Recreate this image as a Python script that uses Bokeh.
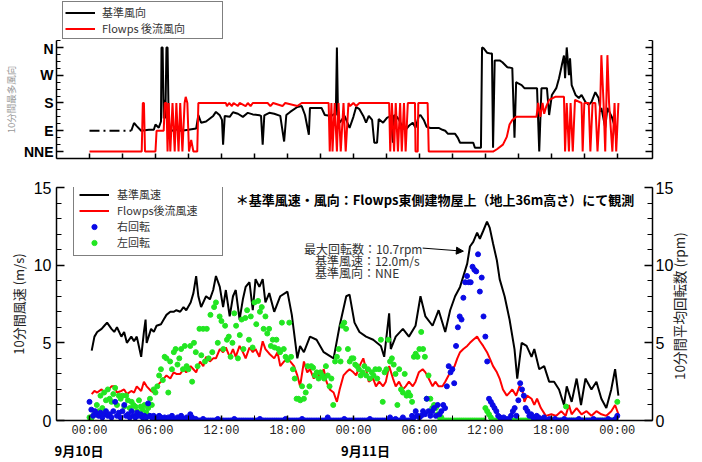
import math
from bokeh.plotting import figure
from bokeh.layouts import column
from bokeh.models import (Range1d, LinearAxis, FixedTicker, Legend, LegendItem,
                          Label, Arrow, NormalHead)
from bokeh.embed import file_html
from bokeh.resources import INLINE

# ---------------- data (hours from 9/10 00:00) ----------------
# wind direction (deg): 22.5=NNE, 90=E, 180=S, 270=W, 360=N
dir_tick_vals = [22.5, 90, 180, 270, 360]
dir_tick_text = ["NNE", "E", "S", "W", "N"]

black_dir_gap_t = [0.0, 3.8]
black_dir_gap_v = [90, 90]

black_dir_t = [3.8, 4.05, 4.3, 4.7, 5.4, 5.85, 6.0, 6.3, 6.5, 6.55,
               6.65, 6.75, 6.85, 6.9, 7.0, 7.1, 7.2, 7.35, 7.8, 8.35,
               9.0, 9.7, 9.9, 10.15, 10.6, 11.25, 11.5, 11.85, 12.05, 12.15,
               12.3, 12.75, 13.05, 13.5, 13.95, 14.4, 14.85, 15.45, 15.6, 15.75,
               15.9, 16.35, 16.8, 17.35, 17.7, 17.9, 18.25, 18.9, 19.3, 19.6,
               19.95, 20.05, 20.65, 21.1, 21.4, 22.0, 22.3, 22.4, 22.5, 22.6,
               22.75, 23.2, 23.65, 24.0, 24.25, 24.55, 24.9, 25.15, 25.4, 25.7,
               25.9, 26.15, 26.3, 26.7, 27.05, 27.4, 27.6, 27.7, 27.95, 28.15,
               28.5, 28.75, 29.05, 29.4, 29.65, 29.95, 30.1, 30.4, 30.65, 31.0,
               31.75, 32.1, 32.35, 32.6, 33.25, 33.5, 33.7, 34.9, 35.05, 35.6,
               35.7, 35.85, 36.15, 36.5, 36.6, 36.7, 36.85, 37.3, 37.55, 38.0,
               38.45, 38.65, 38.8, 38.9, 39.3, 39.55, 40.7, 40.9, 41.1, 41.6,
               41.8, 42.05, 42.45, 42.7, 42.95, 43.15, 43.25, 43.4, 43.6, 43.7,
               43.85, 44.2, 44.5, 44.75, 45.1, 45.4, 45.65, 46.0, 46.3, 46.5,
               46.55, 46.9, 47.1, 47.5, 47.8, 47.9]
black_dir_v = [90, 115, 105, 90, 93, 93, 110, 100, 120, 360,
               360, 130, 190, 130, 360, 360, 125, 87, 95, 90,
               93, 97, 141, 116, 120, 138, 151, 140, 125, 45,
               138, 135, 150, 145, 135, 148, 143, 140, 138, 45,
               140, 148, 145, 138, 55, 141, 151, 167, 170, 141,
               77, 164, 164, 164, 141, 138, 145, 140, 360, 140,
               116, 138, 99, 135, 167, 160, 138, 116, 138, 125,
               51, 51, 128, 116, 132, 138, 51, 141, 135, 125,
               99, 93, 106, 116, 100, 138, 141, 125, 103, 99,
               99, 93, 90, 80, 80, 67, 51, 51, 35, 35,
               360, 357, 343, 340, 340, 35, 318, 318, 312, 296,
               293, 67, 248, 245, 238, 228, 228, 22.5, 228, 228,
               141, 206, 228, 260, 302, 334, 260, 360, 270, 325,
               238, 206, 196, 206, 183, 174, 183, 215, 196, 151,
               164, 100, 164, 135, 100, 67]

red_dir_points = [(0.0, 22.5), (4.75, 22.5), (4.85, 180), (4.95, 180), (5.05, 22.5), (6.0, 22.5),
                  (6.1, 90), (6.75, 90), (6.85, 180), (7.0, 180), (7.1, 22.5), (7.2, 180),
                  (7.35, 22.5), (7.55, 180), (7.75, 22.5), (7.9, 180), (8.1, 22.5), (8.25, 180),
                  (8.45, 22.5), (8.65, 180), (8.75, 200), (8.9, 180), (9.05, 22.5), (9.25, 60),
                  (9.45, 22.5), (9.8, 22.5), (9.9, 180), (12.4, 180), (12.5, 170), (12.7, 180),
                  (12.95, 170), (13.1, 180), (13.5, 170), (13.65, 180), (14.2, 170), (14.4, 180),
                  (14.65, 170), (14.85, 180), (16.2, 180), (16.45, 170), (16.7, 180), (17.55, 170),
                  (17.8, 180), (18.9, 170), (19.3, 180), (21.75, 180), (21.85, 22.5), (22.0, 180),
                  (22.1, 22.5), (22.3, 180), (22.5, 22.5), (22.65, 180), (22.85, 22.5), (23.1, 180),
                  (23.3, 22.5), (23.55, 180), (23.7, 170), (24.0, 180), (24.25, 170), (24.55, 180),
                  (27.25, 180), (27.35, 22.5), (27.5, 180), (27.7, 22.5), (27.85, 180), (28.05, 22.5),
                  (28.25, 180), (28.4, 22.5), (28.6, 180), (28.75, 22.5), (28.95, 180), (29.6, 180),
                  (29.65, 22.5), (29.85, 22.5), (29.9, 180), (30.75, 180), (30.85, 22.5), (36.7, 22.5),
                  (37.05, 30), (37.6, 45), (37.95, 70), (38.2, 110), (38.45, 125), (38.8, 135),
                  (40.65, 135), (40.8, 180), (41.0, 135), (41.2, 180), (41.35, 145), (41.55, 170),
                  (41.8, 190), (42.35, 200), (43.15, 200), (43.25, 22.5), (43.4, 180), (43.6, 22.5),
                  (43.75, 180), (43.95, 22.5), (44.15, 190), (44.75, 180), (44.85, 22.5), (45.0, 180),
                  (45.4, 180), (45.55, 22.5), (45.75, 180), (46.0, 180), (46.2, 22.5), (46.45, 180),
                  (46.55, 335), (46.75, 180), (46.9, 22.5), (47.1, 335), (47.25, 180), (47.55, 22.5),
                  (47.75, 180), (47.9, 22.5), (48.1, 180)]

# 10-min mean wind speed (m/s)
speed_t = [0.2, 0.45, 0.7, 1.1, 1.35, 1.6, 2.0, 2.25, 2.5, 2.9,
           3.15, 3.4, 3.8, 4.05, 4.3, 4.7, 4.95, 5.1, 5.2, 5.6,
           5.85, 6.1, 6.5, 6.75, 7.0, 7.35, 7.65, 7.9, 8.25, 8.55,
           8.8, 9.2, 9.45, 9.7, 9.9, 10.15, 10.6, 10.95, 11.25, 11.5,
           11.85, 12.15, 12.4, 12.75, 13.05, 13.3, 13.65, 13.95, 14.2, 14.55,
           14.85, 15.1, 15.45, 15.75, 16.0, 16.35, 16.8, 17.35, 18.0, 18.4,
           18.9, 19.15, 19.5, 20.05, 20.65, 21.3, 22.2, 22.75, 23.35, 23.65,
           24.1, 24.55, 25.15, 25.8, 26.5, 26.8, 27.25, 27.4, 27.85, 28.5,
           29.05, 29.65, 30.1, 30.55, 31.2, 31.75, 32.35, 32.8, 33.25, 33.7,
           34.35, 34.6, 34.9, 35.25, 35.5, 35.8, 36.15, 36.4, 36.7, 37.05,
           37.3, 37.75, 38.2, 38.65, 38.9, 39.3, 39.75, 40.2, 40.45, 40.9,
           41.35, 41.8, 42.25, 42.7, 43.15, 43.4, 43.85, 44.3, 44.7, 45.1,
           45.65, 46.1, 46.55, 47.0, 47.45, 47.8, 48.1]
speed_ref = [4.5, 5.4, 5.7, 5.9, 6.1, 6.3, 5.9, 5.7, 6.0, 5.4,
             5.7, 5.0, 5.4, 5.1, 5.4, 4.1, 5.7, 6.5, 5.0, 5.9,
             5.7, 6.1, 6.2, 6.5, 6.8, 7.0, 7.0, 7.1, 7.0, 7.3,
             7.1, 7.6, 8.2, 9.3, 8.0, 7.3, 8.0, 7.8, 8.4, 9.3,
             8.6, 7.3, 8.4, 6.7, 8.0, 8.4, 6.5, 7.8, 8.6, 8.9,
             7.1, 9.1, 8.6, 9.1, 7.6, 8.2, 7.0, 8.0, 8.3, 6.8,
             4.0, 4.8, 4.4, 5.4, 5.2, 4.4, 4.0, 6.1, 8.0, 8.1,
             6.3, 5.7, 5.4, 5.2, 4.8, 4.1, 6.9, 4.6, 5.4, 5.9,
             5.4, 6.1, 8.0, 6.7, 6.1, 7.1, 5.7, 7.1, 8.0, 8.6,
             10.1, 11.2, 11.5, 12.1, 11.7, 12.2, 12.8, 12.4, 11.4, 10.3,
             9.1, 8.0, 6.5, 4.6, 2.7, 5.0, 4.8, 4.1, 4.6, 3.3,
             3.5, 2.5, 2.5, 2.0, 1.0, 2.2, 1.2, 2.7, 1.0, 2.7,
             2.0, 2.5, 1.4, 0.8, 2.0, 3.3, 1.6]

wake_speed_points = [(0.2, 1.7), (0.45, 1.9), (0.7, 1.8), (1.1, 2.0), (1.35, 1.8), (1.6, 1.9),
                     (2.0, 2.2), (2.25, 2.2), (2.5, 1.8), (2.9, 1.9), (3.15, 2.0), (3.4, 1.7),
                     (3.8, 1.9), (4.05, 1.8), (4.3, 2.2), (4.7, 1.9), (4.95, 2.5), (5.2, 2.2),
                     (5.6, 1.9), (5.85, 1.8), (6.1, 2.2), (6.5, 2.5), (6.75, 2.7), (7.0, 2.9),
                     (7.35, 2.7), (7.65, 3.1), (7.9, 3.0), (8.25, 3.0), (8.55, 3.3), (8.8, 3.1),
                     (9.2, 3.5), (9.45, 3.3), (9.7, 3.1), (10.05, 3.8), (10.35, 3.5), (10.6, 4.1),
                     (10.95, 3.8), (11.25, 4.0), (11.5, 4.0), (11.85, 4.6), (12.15, 4.4), (12.4, 4.7),
                     (12.75, 4.1), (13.05, 4.6), (13.3, 4.1), (13.65, 4.8), (13.95, 4.4), (14.2, 4.0),
                     (14.55, 4.7), (14.85, 4.4), (15.1, 4.6), (15.45, 4.1), (15.75, 5.1), (16.0, 4.6),
                     (16.35, 4.3), (16.8, 4.0), (17.1, 4.4), (17.35, 3.5), (17.7, 3.8), (18.0, 4.0),
                     (18.25, 3.8), (18.6, 3.5), (18.9, 2.9), (19.15, 2.2), (19.5, 3.8), (19.8, 3.1),
                     (20.05, 3.3), (20.4, 2.7), (20.65, 3.1), (20.95, 2.8), (21.3, 3.3), (21.55, 2.5),
                     (21.85, 2.0), (22.2, 1.8), (22.5, 1.2), (22.75, 2.0), (23.1, 2.9), (23.35, 3.1),
                     (23.65, 3.3), (24.0, 3.1), (24.25, 2.9), (24.55, 3.5), (24.9, 4.0), (25.15, 3.3),
                     (25.4, 2.5), (25.8, 2.7), (26.05, 2.2), (26.35, 2.5), (26.7, 2.2), (26.95, 2.5),
                     (27.25, 3.5), (27.6, 2.7), (27.85, 2.2), (28.15, 2.5), (28.5, 2.0), (28.75, 2.2),
                     (29.05, 2.5), (29.4, 2.2), (29.65, 2.5), (29.95, 3.1), (30.3, 3.3), (30.55, 3.1),
                     (30.85, 2.7), (31.2, 2.2), (31.45, 2.5), (31.75, 2.2), (32.1, 2.2), (32.35, 2.5),
                     (32.65, 2.9), (33.0, 3.3), (33.2, 3.5), (33.45, 4.0), (33.7, 4.4), (34.0, 4.6),
                     (34.35, 4.8), (34.6, 5.0), (34.9, 5.2), (35.25, 5.4), (35.5, 5.1), (35.8, 4.8),
                     (36.15, 4.4), (36.4, 4.0), (36.7, 3.5), (37.05, 3.1), (37.3, 2.7), (37.6, 2.0),
                     (37.95, 1.6), (38.2, 1.8), (38.45, 2.0), (38.8, 1.6), (39.1, 2.2), (39.35, 2.0),
                     (39.55, 1.2), (39.8, 1.6), (40.2, 1.4), (40.45, 1.0), (40.7, 1.4), (41.05, 0.8),
                     (41.5, 0.3), (42.0, 0.4), (42.45, 0.3), (42.9, 0.6), (43.3, 0.3), (43.6, 1.0),
                     (43.85, 0.4), (44.3, 0.8), (44.75, 0.4), (45.2, 0.6), (45.65, 0.3), (46.1, 0.6),
                     (46.55, 0.4), (47.0, 0.3), (47.45, 0.6), (47.8, 1.0), (48.1, 0.4)]

# 10-min mean rotation (rpm), one value every 10 minutes from 9/10 00:00 to 9/12 00:00
rot_right = [1.2, 0.7, 0.3, 0.6, 0.4, 0.3,  0.5, 0.2, 0.4, 0.6, 0.3, 0.4,
             0.2, 0.6, 1.2, 0.3, 0.5, 0.2,  0.6, 1.0, 0.3, 0.4, 0.2, 0.6,
             0.3, 0.2, 0.5, 0.3, 0.4, 0.2,  0.3, 0.2, 1.1, 0.3, 0.2, 0.3,
             0.2, 0.1, 0.3, 0.2, 0.0, 0.2,  0.1, 0.2, 0.0, 0.3, 0.1, 0.0,
             0.2, 0.0, 0.3, 0.1, 0.0, 0.2,  0.1, 0.4, 0.2, 0.0, 0.1, 0.0,
             0, 0, 0.1, 0, 0, 0,  0, 0, 0, 0, 0.1, 0,
             0, 0, 0, 0, 0, 0,  0, 0.1, 0, 0, 0, 0,
             0, 0, 0, 0, 0, 0,  0, 0, 0, 0.1, 0, 0,
             0, 0, 0, 0, 0, 0,  0, 0, 0, 0, 0, 0.1,
             0, 0, 0, 0, 0, 0,  0, 0, 0.1, 0, 0, 0,
             0, 0, 0, 0, 0, 0,  0, 0, 0, 0, 0.2, 0,
             0, 0, 0, 0, 0, 0,  0, 0.1, 0, 0, 0, 0,
             0, 0, 0, 0, 0, 0,  0, 0, 0, 0.1, 0, 0,
             0, 0, 0, 0, 0, 0,  0, 0, 0.2, 0, 0, 0.1,
             0, 0, 0, 0.2, 0, 0,  0, 0, 0.3, 0.2, 0.6, 0.3,
             0.2, 0.3, 0.6, 0.4, 1.4, 0.6,  0.3, 0.6, 0.8, 0.3, 1.0, 0.4,
             0.6, 1.0, 0.8, 2.2, 3.5, 3.1,  3.3, 2.4, 4.8, 6.0, 6.7, 6.5,
             7.9, 8.9, 9.3, 8.9, 8.9, 9.9,  9.7, 9.6, 10.7, 8.3, 9.2, 6.7,
             5.4, 3.8, 1.4, 1.2, 1.0, 0.8,  0.6, 0.3, 0.2, 0.1, 0.2, 0.0,
             0.1, 0.0, 0.3, 0.6, 0.8, 0.3,  1.3, 2.4, 2.0, 1.6, 0.8, 0.6,
             0.3, 0.4, 0.2, 0.1, 0.3, 0.2,  0.1, 0, 0.2, 0, 0, 0.1,
             0, 0, 0.1, 0, 0, 0,  0, 0.1, 0, 0, 0, 0,
             0, 0, 0, 0.1, 0, 0,  0, 0, 0, 0, 0, 0.1,
             0, 0, 0, 0, 0, 0,  0, 0.1, 0, 0, 0, 0.1,
             0.3]
rot_left = [0.2, 0.0, 0.3, 0.5, 1.0, 0.6,  1.6, 0.8, 1.8, 1.3, 2.0, 1.4,
            1.2, 1.7, 2.1, 1.0, 1.6, 1.4,  1.6, 0.9, 1.6, 1.3, 0.8, 1.2,
            1.0, 0.9, 0.6, 1.3, 0.9, 0.7,  1.0, 0.5, 0.8, 1.4, 1.0, 2.0,
            1.8, 2.2, 2.9, 3.3, 2.6, 4.1,  4.0, 1.8, 3.8, 3.3, 4.4, 4.6,
            3.6, 4.0, 4.6, 3.3, 4.8, 3.5,  3.3, 4.8, 2.5, 5.0, 4.4, 3.5,
            5.9, 4.2, 5.9, 3.8, 5.9, 4.0,  6.8, 4.4, 7.3, 7.6, 5.0, 6.7,
            6.4, 4.6, 6.1, 5.2, 5.4, 4.1,  5.0, 6.9, 6.1, 4.0, 5.5, 6.5,
            4.6, 6.6, 7.1, 5.2, 6.7, 4.7,  7.6, 6.2, 7.7, 7.0, 7.3, 5.9,
            6.7, 5.6, 5.9, 4.8, 5.2, 4.7,  5.2, 4.6, 4.4, 6.3, 4.6, 4.1,
            3.9, 6.3, 4.1, 3.3, 2.7, 1.4,  1.4, 1.3, 2.2, 1.4, 1.8, 3.5,
            2.2, 3.5, 3.4, 2.9, 3.1, 2.7,  3.1, 2.9, 2.7, 3.5, 2.9, 2.2,
            2.7, 1.0, 3.8, 4.1, 4.6, 3.8,  6.1, 6.3, 5.9, 4.6, 3.8, 4.0,
            4.0, 3.6, 3.5, 3.3, 2.9, 3.1,  3.5, 2.9, 3.3, 2.7, 3.1, 2.9,
            3.3, 2.7, 3.3, 5.2, 1.2, 3.1,  3.3, 5.2, 3.8, 4.0, 3.6, 3.0,
            1.0, 3.3, 2.0, 1.8, 3.0, 1.6,  1.8, 1.6, 1.2, 4.1, 4.3, 4.1,
            4.6, 5.7, 4.6, 4.1, 1.4, 2.9,  1.4, 0.8, 1.0, 0.8, 0.4, 0.2,
            0.2, 0, 0, 0, 0, 0,  0, 0, 0, 0, 0, 0,
            0, 0, 0, 0, 0, 0,  0, 0, 0, 0, 0, 0,
            0.8, 0.6, 0.4, 0.2, 0, 0,  0, 0, 0, 0, 0, 0,
            0, 0, 0, 0, 0, 0,  0, 0, 0, 0, 0, 0,
            0, 0, 0, 0, 0, 0,  0, 0, 0, 0, 0, 0,
            0, 0, 0, 0, 0, 0,  0, 0, 0.9, 0, 0, 0,
            0, 0, 0, 0, 0, 0,  0, 0, 0, 0, 0, 0,
            0, 0, 0, 0, 0, 0,  0, 0, 0, 0, 0, 0,
            1.2]
rot_t = [i / 6 for i in range(len(rot_right))]

time_tick_hours = [0, 6, 12, 18, 24, 30, 36, 42, 48]
time_tick_text = ["00:00", "06:00", "12:00", "18:00", "00:00", "06:00", "12:00", "18:00", "00:00"]
date_tick_hours = [-0.95, 25.1]
date_tick_text = ["9月10日", "9月11日"]

assert len(black_dir_t) == len(black_dir_v)
assert len(speed_t) == len(speed_ref)
assert len(rot_right) == len(rot_left)

# ---------------- styling ----------------
JP = "Noto Sans CJK JP"
NUM = "Liberation Sans"
X0, X1 = -3.0, 51.2
W = 702


def inside_ticks(ax, major=7, minor=4):
    ax.major_tick_in = major
    ax.major_tick_out = 0
    ax.minor_tick_in = minor
    ax.minor_tick_out = 0
    ax.axis_line_width = 1.5
    ax.major_tick_line_width = 1.5


red_dir_t = [p[0] for p in red_dir_points]
red_dir_v = [p[1] for p in red_dir_points]

# ---------------- legend strip for the direction panel ----------------
# (the series are drawn here too, but outside the visible range, so only the legend shows)
legfig = figure(width=W, height=40, x_range=Range1d(1000, 1001), y_range=Range1d(0, 1),
                output_backend="svg", toolbar_location=None,
                x_axis_location=None, y_axis_location=None, min_border=0)
legfig.outline_line_color = None
legfig.grid.visible = False
lk_black = legfig.line(black_dir_t, black_dir_v, color="black", line_width=2)
lk_red = legfig.line(red_dir_t, red_dir_v, color="#ff0000", line_width=2)
leg_top = Legend(items=[LegendItem(label="基準風向", renderers=[lk_black]),
                        LegendItem(label="Flowps 後流風向", renderers=[lk_red])],
                 location=(6, 1), orientation="vertical",
                 label_text_font=JP, label_text_font_size="11px", label_text_color="#333333",
                 glyph_width=30, glyph_height=13, label_height=13, spacing=0, padding=2,
                 label_standoff=7, label_width=118, border_line_color="black", border_line_width=1,
                 background_fill_alpha=1.0, margin=0)
legfig.add_layout(leg_top, "center")

# ---------------- top: wind direction ----------------
top = figure(width=W, height=132, x_range=Range1d(X0, X1), y_range=Range1d(0, 382.5),
             output_backend="svg", toolbar_location=None,
             min_border_left=52, min_border_right=47, min_border_top=0, min_border_bottom=14)
top.outline_line_color = None
top.grid.visible = False

dir_minor = [22.5 * k for k in range(18)]
yax = top.yaxis[0]
yax.ticker = FixedTicker(ticks=dir_tick_vals, minor_ticks=dir_minor)
yax.major_label_overrides = {v: t for v, t in zip(dir_tick_vals, dir_tick_text)}
yax.major_label_text_font = NUM
yax.major_label_text_font_style = "bold"
yax.major_label_text_font_size = "14px"
yax.major_label_text_color = "black"
yax.major_label_standoff = 3
inside_ticks(yax)
yax.axis_label = "10分間最多風向"
yax.axis_label_text_font = JP
yax.axis_label_text_font_size = "9.5px"
yax.axis_label_text_font_style = "normal"
yax.axis_label_text_color = "#999999"
yax.axis_label_standoff = 3

xax = top.xaxis[0]
xax.ticker = FixedTicker(ticks=[3 * k for k in range(17)])
xax.major_label_text_color = None
xax.major_label_text_font_size = "8px"
xax.major_label_standoff = 0
inside_ticks(xax, major=5, minor=0)

rax = LinearAxis(ticker=FixedTicker(ticks=dir_tick_vals, minor_ticks=dir_minor),
                 major_label_text_color=None, major_label_text_font_size="8px",
                 major_label_standoff=0)
inside_ticks(rax)
top.add_layout(rax, "right")

top.line(black_dir_gap_t, black_dir_gap_v, color="black", line_width=2, line_dash="10 4 2 4")
top.line(black_dir_t, black_dir_v, color="black", line_width=2)
top.line(red_dir_t, red_dir_v, color="#ff0000", line_width=2)

# ---------------- bottom: wind speed / rotation ----------------
bot = figure(width=W, height=290, x_range=top.x_range, y_range=Range1d(0, 15),
             output_backend="svg", toolbar_location=None,
             min_border_left=52, min_border_right=47, min_border_top=15, min_border_bottom=40)
bot.extra_y_ranges = {"rpm": Range1d(0, 15)}
bot.outline_line_color = None
bot.grid.visible = False

num_ticker = FixedTicker(ticks=[0, 5, 10, 15], minor_ticks=list(range(16)))
lax = bot.yaxis[0]
lax.ticker = num_ticker
lax.major_label_text_font = NUM
lax.major_label_text_font_size = "16px"
lax.major_label_text_color = "black"
lax.major_label_standoff = 5
inside_ticks(lax, major=8, minor=5)
lax.axis_label = "10分間風速 (m/s)"
lax.axis_label_text_font = JP
lax.axis_label_text_font_size = "13px"
lax.axis_label_text_font_style = "normal"
lax.axis_label_text_color = "#222222"
lax.axis_label_standoff = 3

right_label = "10分間平均回転数 (rpm)"
rax2 = LinearAxis(y_range_name="rpm", ticker=num_ticker,
                  major_label_text_font=NUM, major_label_text_font_size="16px",
                  major_label_text_color="black", major_label_standoff=3,
                  axis_label=right_label, axis_label_text_font=JP,
                  axis_label_text_font_size="13.5px", axis_label_text_font_style="normal",
                  axis_label_text_color="#222222", axis_label_standoff=3)
try:
    rax2.axis_label_orientation = math.pi / 2
    rax2.axis_label_align = "start"
    rax2.axis_label = "\u3000\u3000\u3000" + right_label
except Exception:
    rax2.axis_label_orientation = "parallel"
    rax2.axis_label = right_label
inside_ticks(rax2, major=8, minor=5)
bot.add_layout(rax2, "right")

bx = bot.xaxis[0]
bx.ticker = FixedTicker(ticks=time_tick_hours, minor_ticks=[3 + 6 * k for k in range(8)])
bx.major_label_overrides = {h: t for h, t in zip(time_tick_hours, time_tick_text)}
bx.major_label_text_font = "Liberation Mono"
bx.major_label_text_font_size = "12px"
bx.major_label_text_color = "#222222"
bx.major_label_standoff = 3
inside_ticks(bx, major=5, minor=5)

dax = LinearAxis(ticker=FixedTicker(ticks=date_tick_hours),
                 major_label_overrides={h: t for h, t in zip(date_tick_hours, date_tick_text)},
                 major_label_text_font=JP, major_label_text_font_size="13px",
                 major_label_text_font_style="bold", major_label_text_color="black",
                 major_label_standoff=0, axis_line_color=None, major_tick_line_color=None,
                 minor_tick_line_color=None, major_tick_in=0, major_tick_out=0,
                 minor_tick_in=0, minor_tick_out=0)
bot.add_layout(dax, "below")

r_spd = bot.line(speed_t, speed_ref, color="black", line_width=2)
r_wake = bot.line([p[0] for p in wake_speed_points], [p[1] for p in wake_speed_points],
                  color="#ff0000", line_width=2)
r_left = bot.scatter(rot_t, rot_left, size=5, color="#22e622", y_range_name="rpm")
r_right = bot.scatter(rot_t, rot_right, size=5, color="#0a0ae6", y_range_name="rpm")

leg_bot = Legend(items=[LegendItem(label="基準風速", renderers=[r_spd]),
                        LegendItem(label="Flowps後流風速", renderers=[r_wake]),
                        LegendItem(label="右回転", renderers=[r_right]),
                        LegendItem(label="左回転", renderers=[r_left])],
                 location=(17, 164), orientation="vertical",
                 label_text_font=JP, label_text_font_size="11px", label_text_color="#333333",
                 glyph_width=30, glyph_height=13, label_height=13, spacing=0, padding=5,
                 label_standoff=8, label_width=100, border_line_color="black", border_line_width=1,
                 background_fill_alpha=1.0, margin=0)
bot.add_layout(leg_bot, "center")

bot.add_layout(Label(x=13.3, y=14.23, text="＊基準風速・風向：Flowps東側建物屋上（地上36m高さ）にて観測",
                     text_font=JP, text_font_size="13px", text_font_style="bold",
                     text_align="left", text_baseline="middle", text_color="black"))

note_lines = [(19.5, 11.1, "最大回転数：10.7rpm"),
              (20.5, 10.3, "基準風速：12.0m/s"),
              (20.5, 9.5, "基準風向：NNE")]
for xh, yv, txt in note_lines:
    bot.add_layout(Label(x=xh, y=yv, text=txt, text_font=JP, text_font_size="12px",
                         text_align="left", text_baseline="middle", text_color="#333333"))
bot.add_layout(Arrow(end=NormalHead(size=7, fill_color="black", line_color="black"),
                     x_start=30.3, y_start=11.1, x_end=34.0, y_end=10.9,
                     line_color="black", line_width=1))

layout = column(legfig, top, bot)
open("out.html", "w").write(file_html(layout, INLINE))
